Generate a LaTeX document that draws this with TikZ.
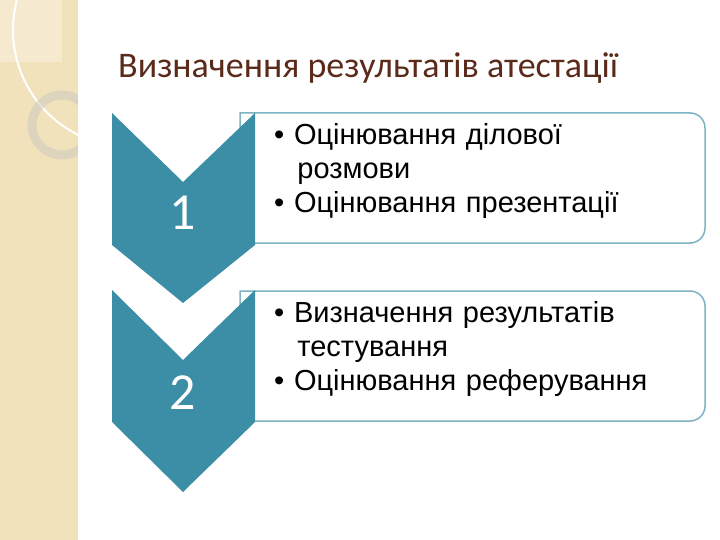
\documentclass[tikz,border=0pt]{standalone}
\usepackage{fontspec}
\setmainfont{Liberation Sans}
\newfontfamily\carfont{Carlito}
\definecolor{teal1}{HTML}{3B8EA5}
\definecolor{edge1}{HTML}{7FB3C4}
\definecolor{beige}{HTML}{F2E2BC}
\definecolor{titlec}{HTML}{5A2A1A}
\tikzset{chev/.style={fill=teal1,draw=none},
 box/.style={draw=edge1,line width=1.5pt,fill=white},
 btxt/.style={anchor=north west,align=left,font=\fontsize{29}{34}\selectfont,text width=460pt,inner sep=0pt},
 num/.style={white,font=\carfont\fontsize{52}{52}\selectfont}}
\begin{document}
\begin{tikzpicture}[x=1pt,y=-1pt]
\useasboundingbox (0,0) rectangle (720,540);
\fill[white] (0,0) rectangle (720,540);
\begin{scope}
\clip (0,0) rectangle (78,540);
\fill[beige] (0,0) rectangle (78,540);
\fill[white,opacity=0.3] (0,0) rectangle (62,62);
\draw[white,line width=2pt] (130,30) circle (117);
\draw[white!80!beige!80!black,opacity=0.5,line width=9pt] (62,125) circle (30);
\end{scope}
\node[anchor=west,text=titlec,font=\carfont\fontsize{36}{36}\selectfont,inner sep=0pt] (title) at (118,68) {Визначення результатів атестації};
% boxes
\draw[box] (240,113) [rounded corners=15pt] -- (705,113) -- (705,243) [sharp corners] -- (240,243) -- cycle;
\draw[box] (240,291) [rounded corners=15pt] -- (705,291) -- (705,421) [sharp corners] -- (240,421) -- cycle;
\node[btxt] (t1) at (274,123) {•\ Оцінювання ділової\\\hspace{0.8em}розмови\\•\ Оцінювання презентації};
\node[btxt] (t2) at (274,301) {•\ Визначення результатів\\\hspace{0.8em}тестування\\•\ Оцінювання реферування};
% chevrons
\fill[chev] (112,113) -- (183,182) -- (255,113) -- (255,245) -- (183,303) -- (112,245) -- cycle;
\fill[chev] (112,290) -- (183,360) -- (255,290) -- (255,422) -- (183,492) -- (112,422) -- cycle;
\node[num] (n1) at (183,213) {1};
\node[num] (n2) at (183,393) {2};
\end{tikzpicture}
\end{document}
